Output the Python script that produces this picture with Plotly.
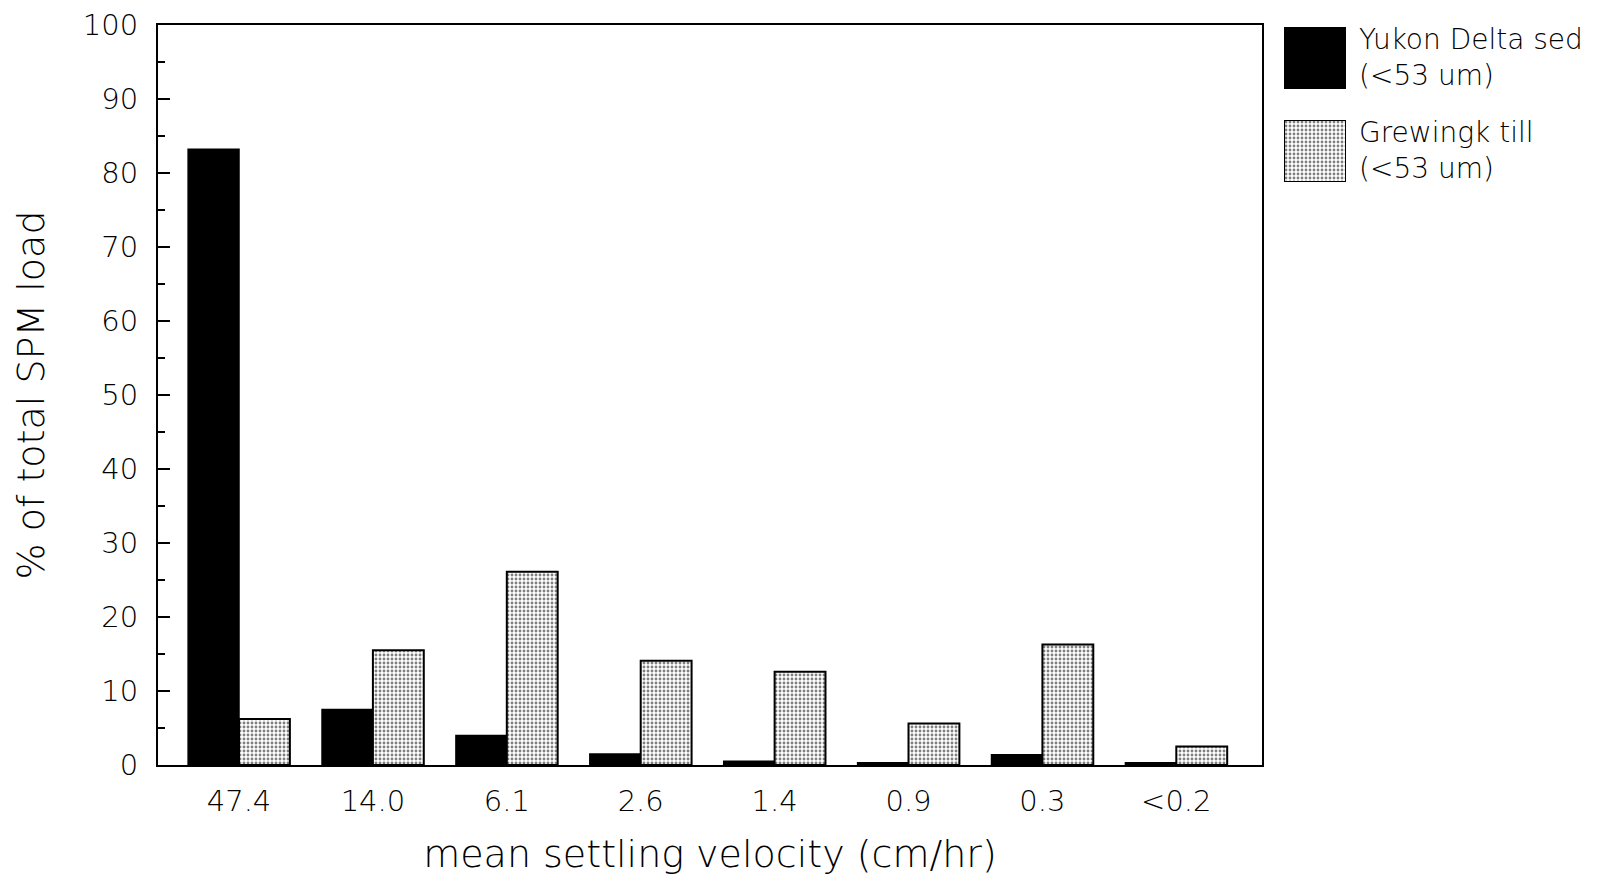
import plotly.graph_objects as go

categories = ["47.4", "14.0", "6.1", "2.6", "1.4", "0.9", "0.3", "<0.2"]
yukon = [83.2, 7.5, 4.0, 1.5, 0.5, 0.3, 1.4, 0.3]
grewingk = [6.2, 15.5, 26.1, 14.1, 12.6, 5.6, 16.3, 2.5]
series_names = ["Yukon Delta sed<br>(<53 um)", "Grewingk till<br>(<53 um)"]

FONT = "DejaVu Sans"
WEIGHT = 200
OFF = 8  # page body margin
W, H = 1617 - OFF, 884 - OFF
L = 158 - OFF
plot_right = 1262 - OFF
T = 25 - OFF
B = H - (765 - OFF)
R = 0
PW = W - L - R
PH = H - T - B

def px_x(p):
    return (p - OFF - L) / PW

def px_y(p):
    return (H - B - (p - OFF)) / PH

black_marker = dict(color="black", line=dict(color="black", width=1.5))
gray_marker = dict(
    color="white",
    line=dict(color="black", width=2),
    pattern=dict(shape=".", fgcolor="black", bgcolor="white", size=4, solidity=0.4),
)

fig = go.Figure()
fig.add_trace(go.Bar(x=list(range(len(categories))), y=yukon, name=series_names[0],
                     marker=black_marker, showlegend=False))
fig.add_trace(go.Bar(x=list(range(len(categories))), y=grewingk, name=series_names[1],
                     marker=gray_marker, showlegend=False))

# legend swatches (drawn as bars on tiny hidden axes so the stipple pattern matches)
fig.add_trace(go.Bar(x=[0], y=[1], width=[1], marker=black_marker, xaxis="x2", yaxis="y2",
                     showlegend=False, hoverinfo="skip"))
fig.add_trace(go.Bar(x=[0], y=[1], width=[1], marker=gray_marker, xaxis="x3", yaxis="y3",
                     showlegend=False, hoverinfo="skip"))

sw_x = [px_x(1284), px_x(1346)]
hidden = dict(visible=False, showgrid=False, zeroline=False, fixedrange=True)

fig.update_layout(
    width=W, height=H,
    margin=dict(l=L, r=R, t=T, b=B, autoexpand=False),
    paper_bgcolor="white", plot_bgcolor="white",
    font=dict(family=FONT, color="black", size=29, weight=WEIGHT),
    barmode="group", bargap=0.24, bargroupgap=0,
    xaxis=dict(
        domain=[0, (plot_right - L) / PW],
        range=[-0.605, 7.64],
        tickmode="array", tickvals=list(range(len(categories))), ticktext=categories,
        ticks="", showline=True, linecolor="black", linewidth=2, mirror=True,
        showgrid=False, zeroline=False, ticklabelstandoff=9,
        tickfont=dict(size=29, weight=WEIGHT),
        title=dict(text="mean settling velocity (cm/hr)", font=dict(size=38, weight=WEIGHT), standoff=24),
    ),
    yaxis=dict(
        range=[0, 100], dtick=10, tick0=0,
        ticks="inside", ticklen=12, tickwidth=1.5, tickcolor="black",
        minor=dict(dtick=5, ticks="inside", ticklen=7, tickwidth=1.5, tickcolor="black"),
        showline=True, linecolor="black", linewidth=2, mirror=True,
        showgrid=False, zeroline=False, ticklabelstandoff=12,
        tickfont=dict(size=29, weight=WEIGHT),
        title=dict(text="% of total SPM load", font=dict(size=38, weight=WEIGHT), standoff=27),
    ),
    xaxis2=dict(domain=sw_x, range=[-0.5, 0.5], anchor="y2", **hidden),
    yaxis2=dict(domain=[px_y(89), px_y(27)], range=[0, 1], anchor="x2", **hidden),
    xaxis3=dict(domain=sw_x, range=[-0.5, 0.5], anchor="y3", **hidden),
    yaxis3=dict(domain=[px_y(182), px_y(120)], range=[0, 1], anchor="x3", **hidden),
    annotations=[
        dict(text=series_names[0], xref="paper", yref="paper", x=px_x(1357), y=px_y(58),
             xanchor="left", yanchor="middle", showarrow=False, align="left",
             font=dict(size=28, family=FONT, weight=WEIGHT)),
        dict(text=series_names[1], xref="paper", yref="paper", x=px_x(1357), y=px_y(150),
             xanchor="left", yanchor="middle", showarrow=False, align="left",
             font=dict(size=28, family=FONT, weight=WEIGHT)),
    ],
)

fig.write_html("out.html")
